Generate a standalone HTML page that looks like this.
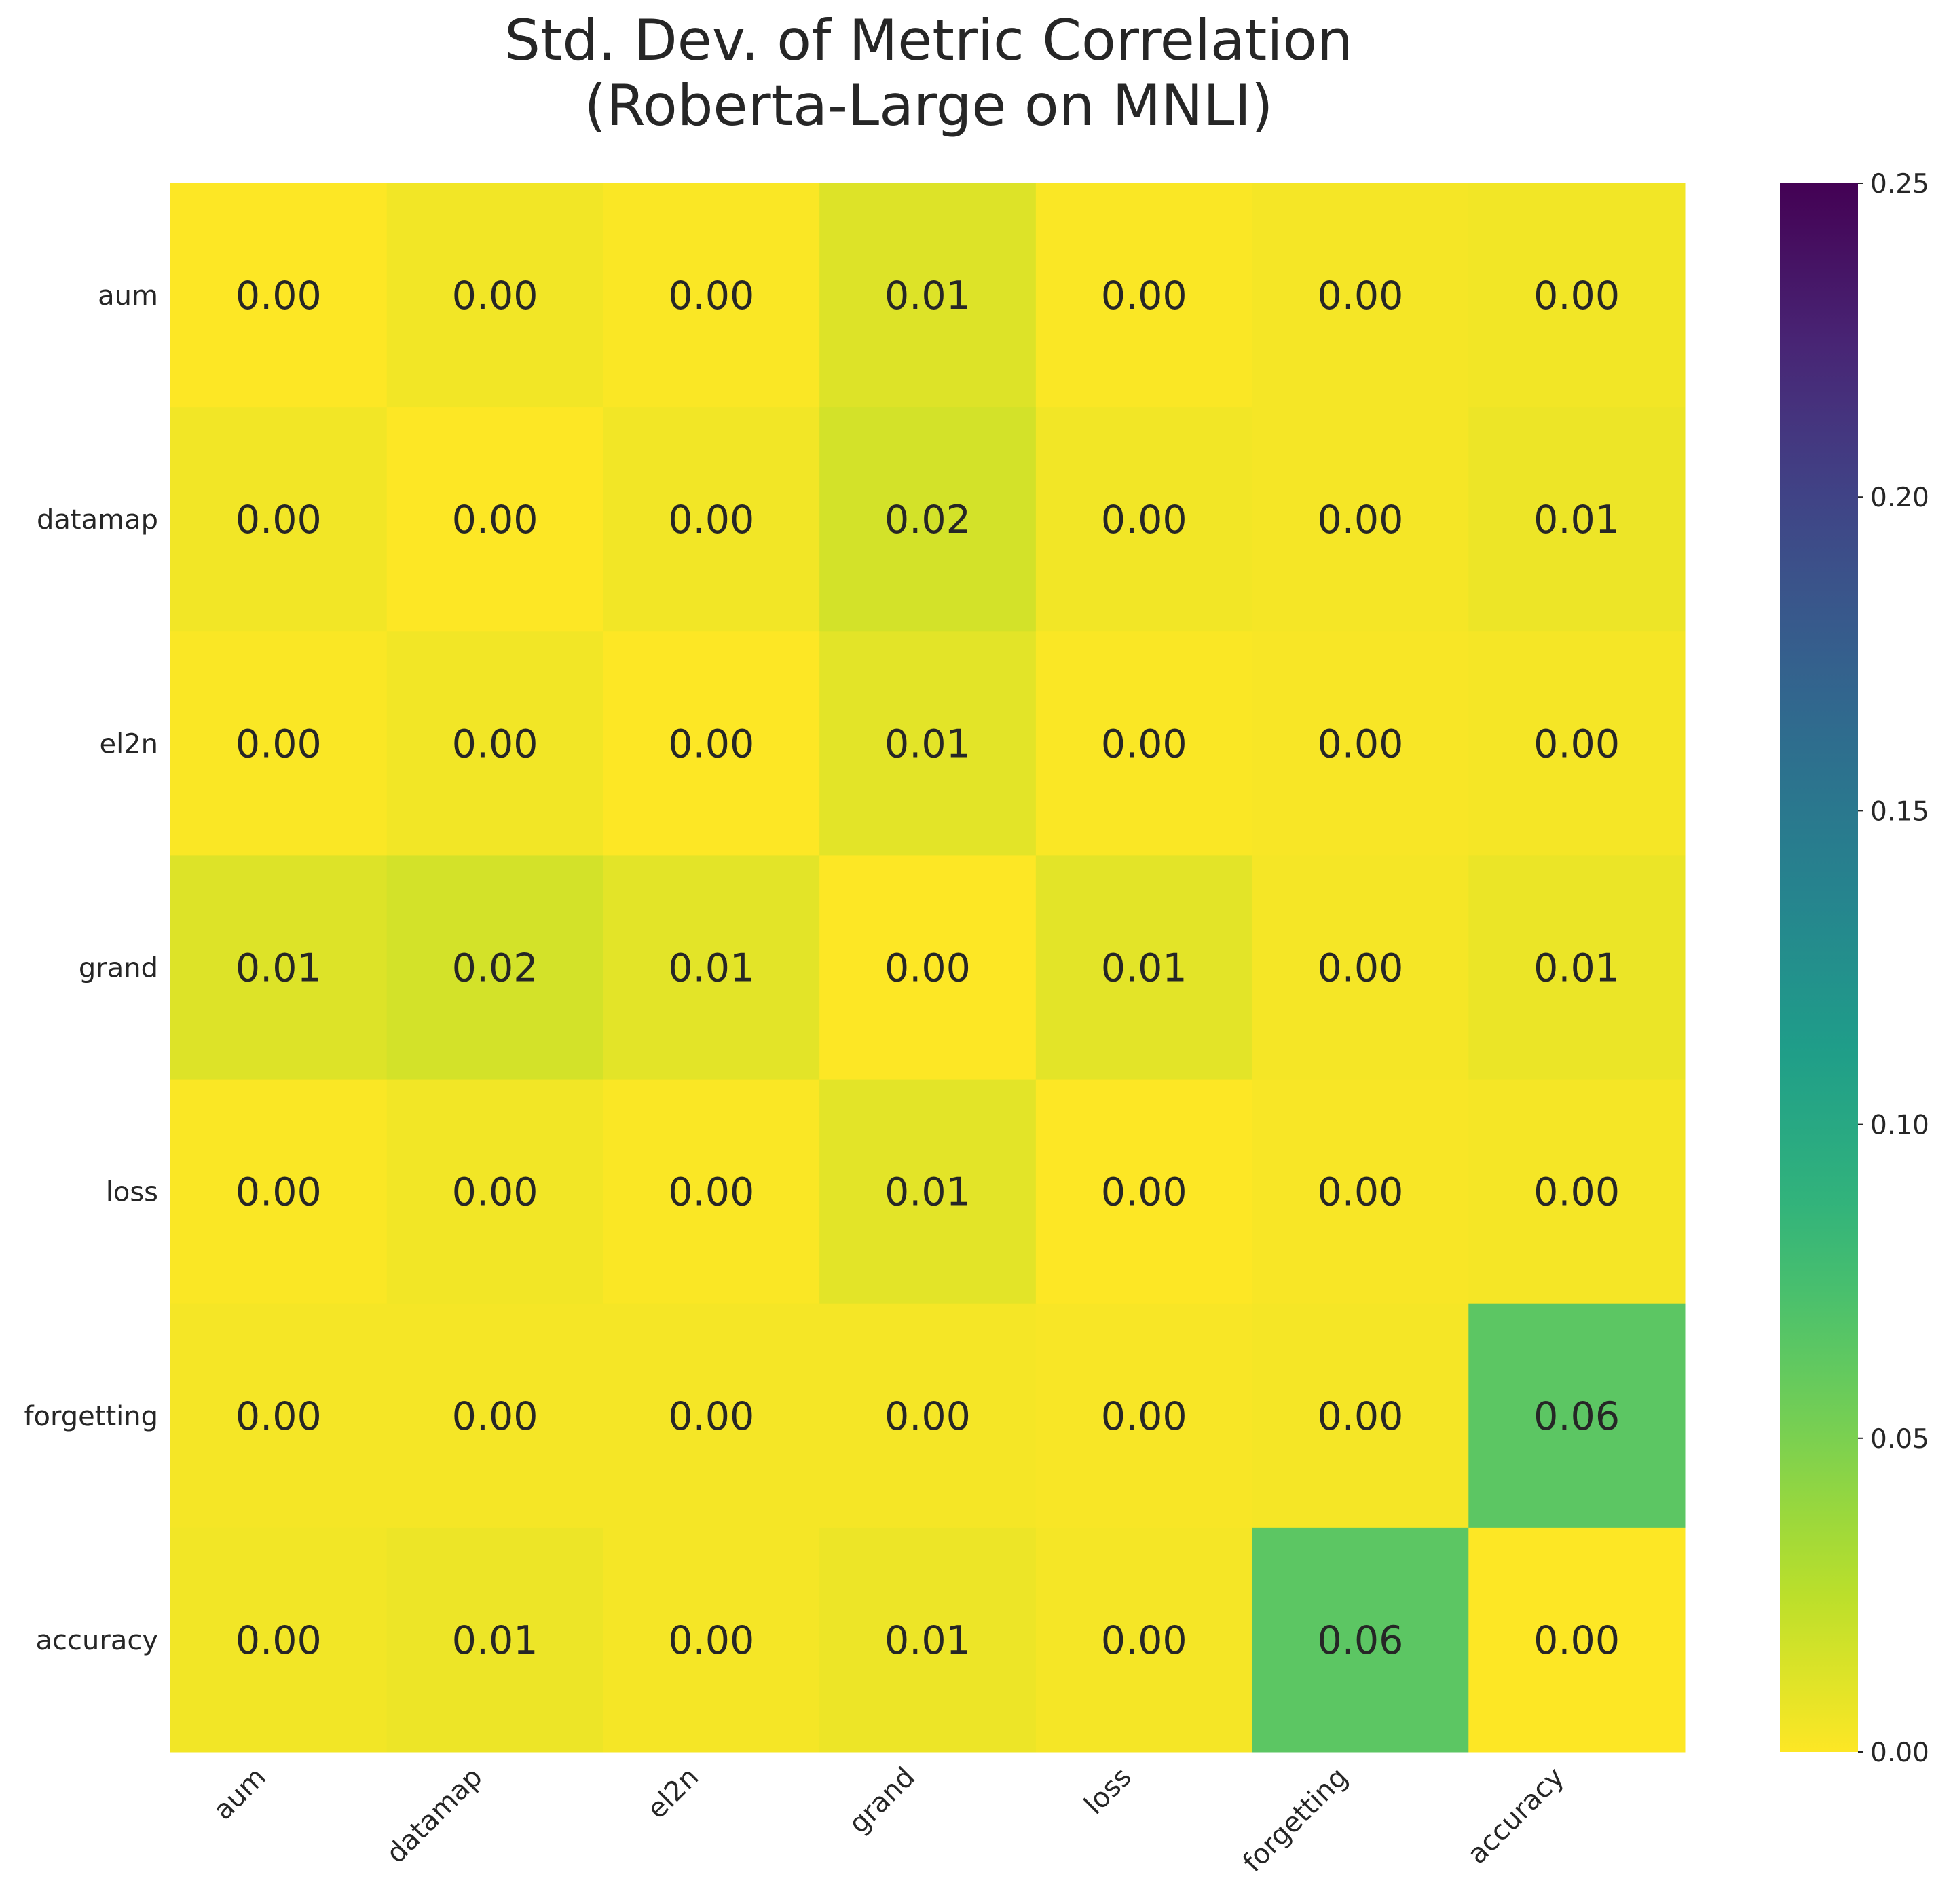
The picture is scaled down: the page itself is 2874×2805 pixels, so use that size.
<!DOCTYPE html>
<html><head><meta charset="utf-8"><style>
html,body{margin:0;padding:0;background:#fff;}
svg text{font-family:"DejaVu Sans","Liberation Sans",sans-serif;fill:#262626;}
</style></head><body>
<svg id="chart" width="2874" height="2800" xmlns="http://www.w3.org/2000/svg">
<text x="1368" y="88" font-size="83" text-anchor="middle">Std. Dev. of Metric Correlation</text>
<text x="1368" y="184" font-size="83" text-anchor="middle">(Roberta-Large on MNLI)</text>
<defs><linearGradient id="cbg" x1="0" y1="1" x2="0" y2="0"></linearGradient></defs>
<g id="cells"></g><g id="ylab"></g><g id="xlab"></g><g id="cbar"></g>
</svg>
<script>
const labels = ["aum","datamap","el2n","grand","loss","forgetting","accuracy"];
const row_aum = [0.000,0.004,0.001,0.012,0.001,0.003,0.004];
const row_datamap = [0.004,0.000,0.004,0.016,0.004,0.003,0.006];
const row_el2n = [0.001,0.004,0.000,0.010,0.001,0.002,0.003];
const row_grand = [0.012,0.016,0.010,0.000,0.010,0.003,0.007];
const row_loss = [0.001,0.004,0.001,0.010,0.000,0.002,0.003];
const row_forgetting = [0.003,0.003,0.003,0.003,0.002,0.003,0.064];
const row_accuracy = [0.004,0.006,0.003,0.006,0.003,0.064,0.000];
const cbTicks = [0.00,0.05,0.10,0.15,0.20,0.25];
const matrix = [row_aum,row_datamap,row_el2n,row_grand,row_loss,row_forgetting,row_accuracy];

const NS="http://www.w3.org/2000/svg";
const X0=251,X1=2482,Y0=270,Y1=2581, VMIN=0, VMAX=0.25;
const cw=(X1-X0)/labels.length, ch=(Y1-Y0)/labels.length;
const xPos=i=>X0+i*cw, yPos=i=>Y0+i*ch;
const vir=[[68,1,84],[72,40,120],[62,74,137],[49,104,142],[38,130,142],[31,158,137],[53,183,121],[109,205,89],[180,222,44],[253,231,37]];
function color(v){ // viridis_r
  let t=1-(v-VMIN)/(VMAX-VMIN); t=Math.max(0,Math.min(1,t));
  const p=t*(vir.length-1), i=Math.min(Math.floor(p),vir.length-2), f=p-i;
  const c=vir[i].map((a,k)=>Math.round(a+(vir[i+1][k]-a)*f));
  return `rgb(${c[0]},${c[1]},${c[2]})`;
}
function mk(tag,attrs,parent,txt){const e=document.createElementNS(NS,tag);for(const k in attrs)e.setAttribute(k,attrs[k]);if(txt!==undefined)e.textContent=txt;parent.appendChild(e);return e;}
const gc=document.getElementById('cells');
matrix.forEach((row,r)=>row.forEach((v,c)=>{
  const rect=mk('rect',{x:xPos(c),y:yPos(r),width:cw+0.5,height:ch+0.5,fill:color(v)},gc);
  
  
  const t=mk('text',{x:xPos(c)+cw/2,y:yPos(r)+ch/2+20,'font-size':57,'text-anchor':'middle'},gc,v.toFixed(2));
  
  
}));
const gy=document.getElementById('ylab'), gx=document.getElementById('xlab');
labels.forEach((l,i)=>{
  const t=mk('text',{x:233,y:yPos(i)+ch/2+14,'font-size':40,'text-anchor':'end'},gy,l);
  
  
  const cx=xPos(i)+cw/2-25, cy=2612;
  const u=mk('text',{x:cx,y:cy+12,'font-size':40,'text-anchor':'end',transform:`rotate(-45 ${cx} ${cy})`},gx,l);
  
  
});
const grad=document.getElementById('cbg');
for(let i=0;i<=20;i++){mk('stop',{offset:(i/20),'stop-color':color(VMIN+(VMAX-VMIN)*i/20)},grad);}
const gb=document.getElementById('cbar');
const CX0=2622,CX1=2737;
const bar=mk('rect',{x:CX0,y:Y0,width:CX1-CX0,height:Y1-Y0,fill:'url(#cbg)'},gb);


const cbY=v=>Y1-(v-VMIN)/(VMAX-VMIN)*(Y1-Y0);
cbTicks.forEach(v=>{
  mk('line',{x1:CX1,x2:CX1+8,y1:cbY(v),y2:cbY(v),stroke:'#262626','stroke-width':2},gb);
  const t=mk('text',{x:2755,y:cbY(v)+14,'font-size':39},gb,v.toFixed(2));
  
  
});
</script>
</body></html>
